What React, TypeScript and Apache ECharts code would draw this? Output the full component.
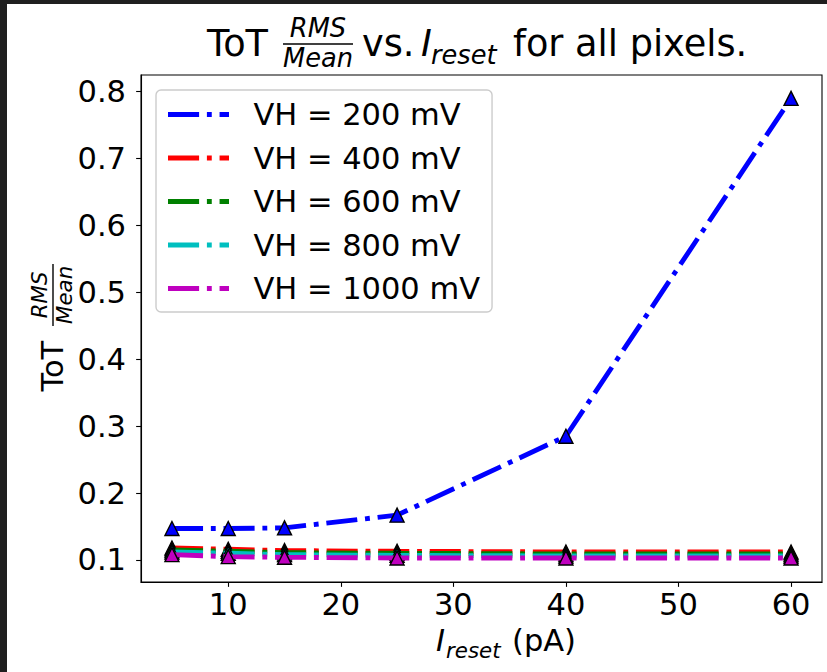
import React, { useEffect, useRef } from 'react';
import * as echarts from 'echarts';

const xValues = [5, 10, 15, 25, 40, 60];
const seriesNames = ['VH = 200 mV', 'VH = 400 mV', 'VH = 600 mV', 'VH = 800 mV', 'VH = 1000 mV'];
const seriesColors = ['#0000ff', '#ff0000', '#008000', '#00bfbf', '#bf00bf'];
const vh200 = [0.147, 0.147, 0.148, 0.167, 0.285, 0.79];
const vh400 = [0.118, 0.116, 0.114, 0.113, 0.112, 0.112];
const vh600 = [0.115, 0.113, 0.111, 0.11, 0.109, 0.109];
const vh800 = [0.112, 0.11, 0.108, 0.107, 0.106, 0.106];
const vh1000 = [0.108, 0.105, 0.104, 0.103, 0.103, 0.103];
const xTicks = [10, 20, 30, 40, 50, 60];
const yTicks = [0.1, 0.2, 0.3, 0.4, 0.5, 0.6, 0.7, 0.8];

const FONT = '"DejaVu Sans", sans-serif';
const F = 30.5;
const FT = 36.7;

function txt(text: string, x: number, baseline: number, size: number, italic = false, align = 'left') {
  return {
    type: 'text',
    x,
    y: baseline - 0.346 * size,
    silent: true,
    style: {
      text,
      fill: '#000',
      fontSize: size,
      fontFamily: FONT,
      fontStyle: italic ? 'italic' : 'normal',
      align,
      textAlign: align,
      verticalAlign: 'middle',
      textVerticalAlign: 'middle',
    },
  };
}

function bar(x1: number, x2: number, y: number, w: number) {
  return { type: 'line', silent: true, shape: { x1, y1: y, x2, y2: y }, style: { stroke: '#000', lineWidth: w } };
}

export default function App() {
  const ref = useRef<HTMLDivElement>(null);
  useEffect(() => {
    document.body.style.margin = '0';
    if (!ref.current) return;
    const chart = echarts.init(ref.current, undefined, { renderer: 'svg' });
    const allValues = [vh200, vh400, vh600, vh800, vh1000];
    const LW = 4.86;
    const series = allValues.map((vals, i) => ({
      name: seriesNames[i],
      type: 'line',
      data: xValues.map((x, j) => [x, vals[j]]),
      symbol: 'triangle',
      symbolSize: 14,
      showAllSymbol: true,
      itemStyle: { color: seriesColors[i], borderColor: '#000', borderWidth: 1.4 },
      lineStyle: { color: seriesColors[i], width: LW, type: [31.1, 7.8, 4.86, 7.8], cap: 'butt' },
      z: 2 + i,
      silent: true,
    }));

    const graphic: any[] = [
      { type: 'rect', silent: true, shape: { x: 0, y: 0, width: 7, height: 672 }, style: { fill: '#1f1f1f' } },
      { type: 'rect', silent: true, shape: { x: 0, y: 0, width: 827, height: 4 }, style: { fill: '#1f1f1f' } },
      // title
      txt('ToT', 207, 56, FT),
      bar(283, 353, 44, 1.6),
      txt('RMS', 318, 37, FT * 0.7, true, 'center'),
      txt('Mean', 318, 66.5, FT * 0.7, true, 'center'),
      txt('vs.', 362, 56, FT),
      txt('I', 421, 56, FT, true),
      txt('reset', 431, 64, FT * 0.7, true),
      txt('for all pixels.', 513, 56, FT),
      // x label
      txt('I', 436, 651, F, true),
      txt('reset', 446, 657.7, F * 0.7, true),
      txt('(pA)', 512, 651, F),
      // y label
      {
        type: 'group',
        x: 63,
        y: 391.5,
        rotation: Math.PI / 2,
        children: [
          txt('ToT', 0, 0, F),
          bar(65.6, 127.6, -10, 1.4),
          txt('RMS', 96.6, -16, F * 0.7, true, 'center'),
          txt('Mean', 96.6, 8.9, F * 0.7, true, 'center'),
        ],
      },
    ];

    chart.setOption({
      animation: false,
      backgroundColor: '#ffffff',
      grid: { left: 141, top: 75, width: 681, height: 507, show: true, borderColor: '#000', borderWidth: 1.1, backgroundColor: '#fff' },
      xAxis: {
        type: 'value',
        min: 2.25,
        max: 62.75,
        axisLine: { show: true, onZero: false, lineStyle: { color: '#000', width: 1.1 } },
        axisTick: { show: true, customValues: xTicks, length: 4.86, lineStyle: { color: '#000', width: 1.1 } },
        axisLabel: { show: true, customValues: xTicks, fontSize: F, fontFamily: FONT, color: '#000', margin: 7 },
        splitLine: { show: false },
      },
      yAxis: {
        type: 'value',
        min: 0.0671,
        max: 0.825,
        axisLine: { show: true, onZero: false, lineStyle: { color: '#000', width: 1.1 } },
        axisTick: { show: true, customValues: yTicks, length: 4.86, lineStyle: { color: '#000', width: 1.1 } },
        axisLabel: {
          show: true,
          customValues: yTicks,
          fontSize: F,
          fontFamily: FONT,
          color: '#000',
          margin: 15,
          formatter: (v: number) => v.toFixed(1),
        },
        splitLine: { show: false },
      },
      legend: {
        orient: 'vertical',
        left: 156,
        top: 90,
        data: seriesNames,
        selectedMode: false,
        icon: 'path://M0 0H31.1V4.86H0Z M38.9 0H43.76V4.86H38.9Z M51.56 0H61V4.86H51.56Z',
        itemWidth: 61,
        itemHeight: 4.86,
        itemGap: 12.5,
        itemStyle: { borderWidth: 0 },
        textStyle: { fontSize: F, fontFamily: FONT, color: '#000', lineHeight: 28.2, padding: [0, 0, 0, 19.4] },
        padding: [9, 12, 8, 12],
        backgroundColor: 'rgba(255,255,255,0.8)',
        borderColor: '#cccccc',
        borderWidth: 1.4,
        borderRadius: 5,
      },
      series,
      graphic,
    });
    return () => chart.dispose();
  }, []);
  return <div ref={ref} style={{ width: 827, height: 672 }} />;
}
